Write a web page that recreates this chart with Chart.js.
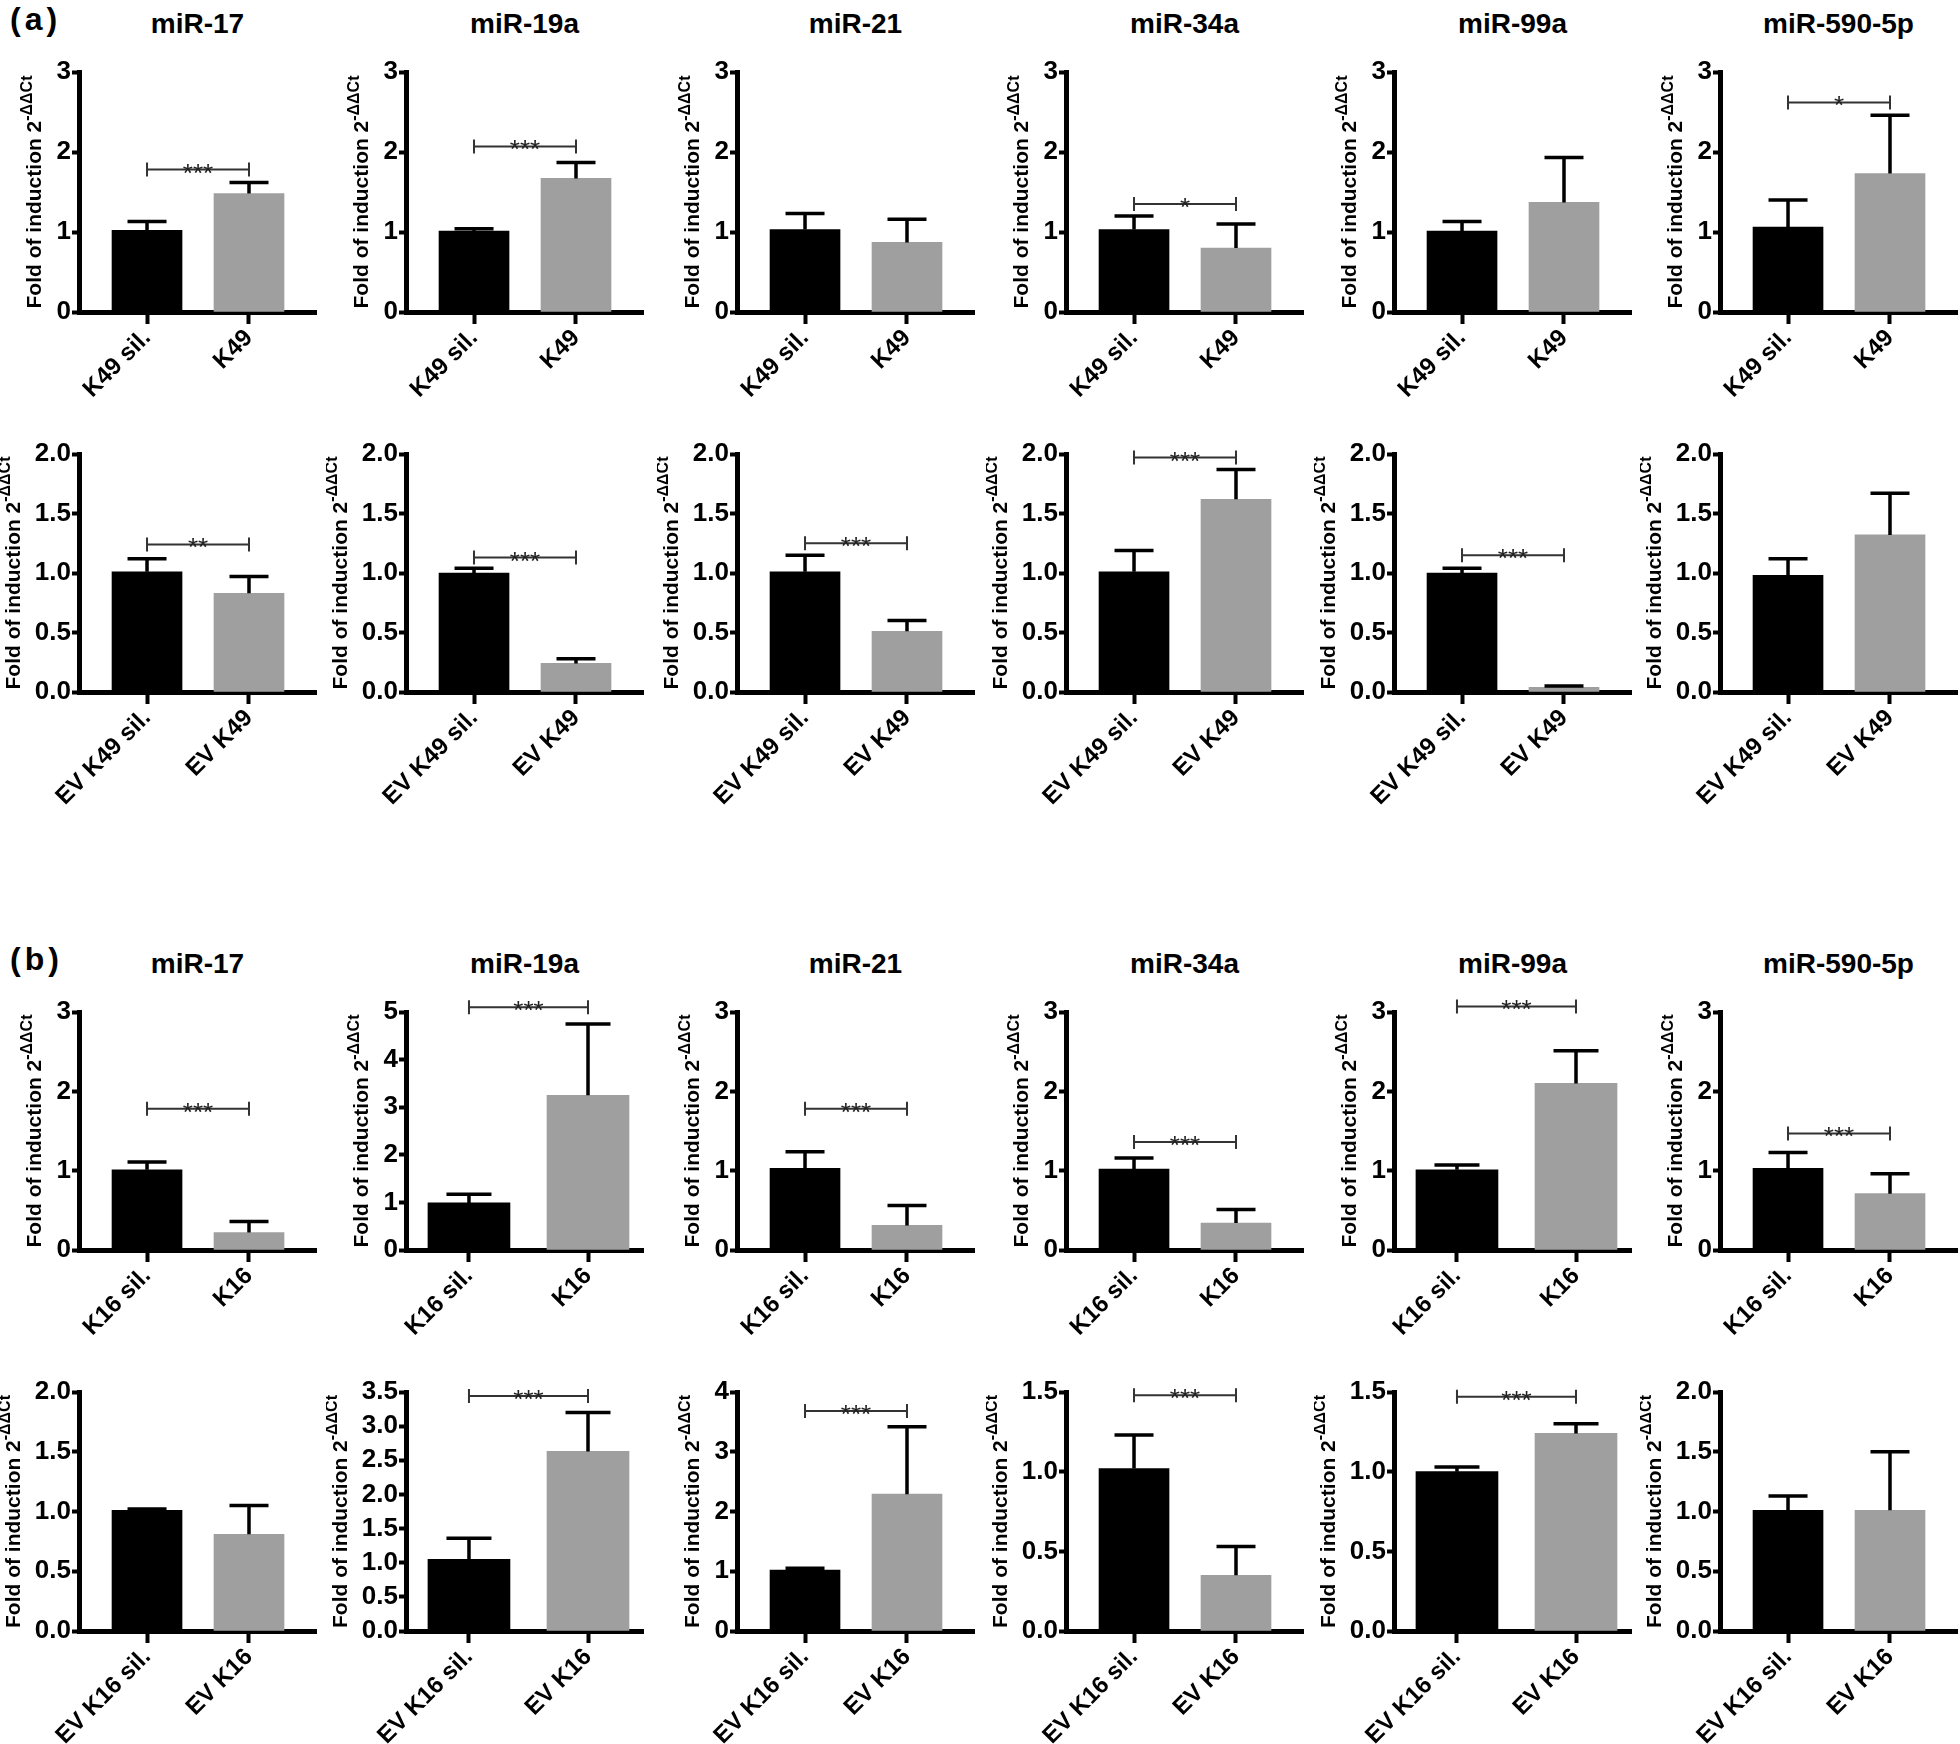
<!DOCTYPE html>
<html>
<head>
<meta charset="utf-8">
<script src="https://cdn.jsdelivr.net/npm/chart.js"></script>
<style>
  body { margin: 0; background: #fff; }
  #fig { position: relative; width: 1960px; height: 1744px; font-family: 'Liberation Sans', Arial, sans-serif; color: #000; }
  .ttl { position: absolute; width: 237px; text-align: center; font-weight: bold; font-size: 28px; line-height: 30px; }
  .pnl { position: absolute; font-weight: bold; font-size: 32px; line-height: 34px; letter-spacing: 4px; }
  canvas { position: absolute; }
</style>
</head>
<body>
<div id="fig"></div>
<script>
// miRNA panels, left to right
const genes = ['miR-17', 'miR-19a', 'miR-21', 'miR-34a', 'miR-99a', 'miR-590-5p'];

// (a) top row: cells, K49 silenced vs K49
const a1Labels = ['K49 sil.', 'K49'];
const a1SilMean = [1.02, 1.01, 1.03, 1.03, 1.01, 1.06];
const a1SilSem = [0.11, 0.03, 0.20, 0.17, 0.12, 0.34];
const a1Mean = [1.48, 1.67, 0.87, 0.80, 1.37, 1.73];
const a1Sem = [0.14, 0.20, 0.29, 0.30, 0.56, 0.73];
const a1Stars = ['***', '***', '', '*', '', '*'];
const a1StarY = [1.78, 2.07, null, 1.35, null, 2.62];
const a1Max = [3, 3, 3, 3, 3, 3];
const a1Step = [1, 1, 1, 1, 1, 1];

// (a) bottom row: EVs, K49 silenced vs K49
const a2Labels = ['EV K49 sil.', 'EV K49'];
const a2SilMean = [1.01, 1.00, 1.01, 1.01, 1.00, 0.98];
const a2SilSem = [0.11, 0.04, 0.14, 0.18, 0.04, 0.14];
const a2Mean = [0.83, 0.24, 0.51, 1.62, 0.04, 1.32];
const a2Sem = [0.14, 0.04, 0.09, 0.25, 0.01, 0.35];
const a2Stars = ['**', '***', '***', '***', '***', ''];
const a2StarY = [1.24, 1.13, 1.25, 1.97, 1.15, null];
const a2Max = [2, 2, 2, 2, 2, 2];
const a2Step = [0.5, 0.5, 0.5, 0.5, 0.5, 0.5];

// (b) top row: cells, K16 silenced vs K16
const b1Labels = ['K16 sil.', 'K16'];
const b1SilMean = [1.01, 0.99, 1.03, 1.02, 1.01, 1.03];
const b1SilSem = [0.10, 0.18, 0.21, 0.14, 0.06, 0.20];
const b1Mean = [0.22, 3.25, 0.31, 0.34, 2.10, 0.71];
const b1Sem = [0.14, 1.50, 0.25, 0.17, 0.41, 0.25];
const b1Stars = ['***', '***', '***', '***', '***', '***'];
const b1StarY = [1.78, 5.1, 1.78, 1.36, 3.07, 1.47];
const b1Max = [3, 5, 3, 3, 3, 3];
const b1Step = [1, 1, 1, 1, 1, 1];

// (b) bottom row: EVs, K16 silenced vs K16
const b2Labels = ['EV K16 sil.', 'EV K16'];
const b2SilMean = [1.01, 1.05, 1.02, 1.02, 1.00, 1.01];
const b2SilSem = [0.01, 0.31, 0.03, 0.21, 0.03, 0.12];
const b2Mean = [0.81, 2.63, 2.29, 0.35, 1.24, 1.01];
const b2Sem = [0.24, 0.57, 1.13, 0.18, 0.06, 0.49];
const b2Stars = ['', '***', '***', '***', '***', ''];
const b2StarY = [null, 3.44, 3.68, 1.48, 1.47, null];
const b2Max = [2, 3.5, 4, 1.5, 1.5, 2];
const b2Step = [0.5, 0.5, 1, 0.5, 0.5, 0.5];

const rows = [
  { labels: a1Labels, silMean: a1SilMean, silSem: a1SilSem, mean: a1Mean, sem: a1Sem, stars: a1Stars, starY: a1StarY, max: a1Max, step: a1Step },
  { labels: a2Labels, silMean: a2SilMean, silSem: a2SilSem, mean: a2Mean, sem: a2Sem, stars: a2Stars, starY: a2StarY, max: a2Max, step: a2Step },
  { labels: b1Labels, silMean: b1SilMean, silSem: b1SilSem, mean: b1Mean, sem: b1Sem, stars: b1Stars, starY: b1StarY, max: b1Max, step: b1Step },
  { labels: b2Labels, silMean: b2SilMean, silSem: b2SilSem, mean: b2Mean, sem: b2Sem, stars: b2Stars, starY: b2StarY, max: b2Max, step: b2Step }
];

// page layout (pixels)
const colX = [79, 406, 737, 1066, 1394, 1720];
const rowTop = [72, 454, 1012, 1392];
const rowBot = [312, 692, 1250, 1631];
const AXIS_LEN = 237;
const PAD_L = 80, PAD_R = 10, PAD_T = 26, Y_W = 64, X_H = 140;
const wide = ['2-1', '2-4', '3-1', '3-4'];

const NARROW = "'Liberation Sans Narrow', 'Arial Narrow', 'Liberation Sans', sans-serif";
const SANS = "'Liberation Sans', Arial, sans-serif";
const TICK_SIZE = 26;

// error bars, significance brackets and the y axis title
const annot = {
  id: 'annot',
  afterDatasetsDraw(chart, args, o) {
    const { ctx, scales: { x, y }, chartArea } = chart;
    ctx.save();
    ctx.strokeStyle = '#000';
    ctx.lineWidth = 3.5;
    o.means.forEach((m, i) => {
      const px = x.getPixelForValue(i);
      const y0 = y.getPixelForValue(m);
      const y1 = y.getPixelForValue(m + o.sems[i]);
      ctx.beginPath();
      ctx.moveTo(px, y0); ctx.lineTo(px, y1);
      ctx.moveTo(px - o.cap / 2, y1); ctx.lineTo(px + o.cap / 2, y1);
      ctx.stroke();
    });

    if (o.stars) {
      const by = y.getPixelForValue(o.starY);
      const x0 = x.getPixelForValue(0), x1 = x.getPixelForValue(1);
      ctx.strokeStyle = '#333';
      ctx.lineWidth = 2;
      ctx.beginPath();
      ctx.moveTo(x0, by); ctx.lineTo(x1, by);
      ctx.moveTo(x0, by - 7); ctx.lineTo(x0, by + 7);
      ctx.moveTo(x1, by - 7); ctx.lineTo(x1, by + 7);
      ctx.stroke();
      ctx.fillStyle = '#222';
      ctx.font = '26px ' + SANS;
      ctx.textAlign = 'center';
      ctx.textBaseline = 'alphabetic';
      ctx.fillText(o.stars, (x0 + x1) / 2, by + 12);
    }

    // rotated title with superscript
    ctx.font = 'bold ' + TICK_SIZE + 'px ' + NARROW;
    const lw = Math.max(...y.ticks.map(t => ctx.measureText(String(t.label)).width));
    const tx = chartArea.left - 8 - lw - 21;
    const cy = (chartArea.top + chartArea.bottom) / 2;
    const main = 'Fold of induction 2', sup = '-\u0394\u0394Ct';
    ctx.font = 'bold 21px ' + SANS;
    const mw = ctx.measureText(main).width;
    ctx.font = 'bold 16px ' + SANS;
    const sw = ctx.measureText(sup).width;
    ctx.translate(tx, cy);
    ctx.rotate(-Math.PI / 2);
    ctx.fillStyle = '#000';
    ctx.textAlign = 'left';
    ctx.textBaseline = 'middle';
    const start = -(mw + sw) / 2;
    ctx.font = 'bold 21px ' + SANS;
    ctx.fillText(main, start, 0);
    ctx.font = 'bold 16px ' + SANS;
    ctx.fillText(sup, start + mw, -8);
    ctx.restore();
  }
};

const fig = document.getElementById('fig');

function addText(cls, text, left, top) {
  const d = document.createElement('div');
  d.className = cls;
  d.textContent = text;
  d.style.left = left + 'px';
  d.style.top = top + 'px';
  fig.appendChild(d);
}

addText('pnl', '(a)', 10, 2);
addText('pnl', '(b)', 10, 942);
genes.forEach((g, c) => {
  addText('ttl', g, colX[c], 9);
  addText('ttl', g, colX[c], 949);
});

rows.forEach((row, r) => {
  genes.forEach((g, c) => {
    const isWide = wide.includes(r + '-' + c);
    const barW = isWide ? 82 : 70;
    const xMin = isWide ? -0.529 : -0.667;
    const xMax = isWide ? 1.462 : 1.657;
    const step = row.step[c];

    const cv = document.createElement('canvas');
    const w = PAD_L + AXIS_LEN + PAD_R;
    const h = PAD_T + (rowBot[r] - rowTop[r]) + X_H;
    cv.width = w; cv.height = h;
    cv.style.width = w + 'px'; cv.style.height = h + 'px';
    cv.style.left = (colX[c] - PAD_L) + 'px';
    cv.style.top = (rowTop[r] - PAD_T) + 'px';
    fig.appendChild(cv);

    new Chart(cv, {
      type: 'bar',
      data: {
        datasets: [{
          data: [{ x: 0, y: row.silMean[c] }, { x: 1, y: row.mean[c] }],
          backgroundColor: ['#000000', '#9f9f9f'],
          borderWidth: 0,
          barThickness: barW
        }]
      },
      options: {
        responsive: false,
        animation: false,
        devicePixelRatio: 1,
        layout: { padding: { left: PAD_L - Y_W, right: PAD_R, top: PAD_T, bottom: 0 } },
        plugins: {
          legend: { display: false },
          tooltip: { enabled: false },
          annot: {
            means: [row.silMean[c], row.mean[c]],
            sems: [row.silSem[c], row.sem[c]],
            cap: Math.round(barW * 0.55),
            stars: row.stars[c],
            starY: row.starY[c]
          }
        },
        scales: {
          x: {
            type: 'linear',
            min: xMin,
            max: xMax,
            offset: false,
            afterBuildTicks: s => { s.ticks = [{ value: 0 }, { value: 1 }]; },
            afterFit: s => { s.height = X_H; },
            grid: { drawOnChartArea: false, offset: false, tickLength: 12, tickWidth: 4, tickColor: '#000' },
            border: { display: true, width: 5, color: '#000' },
            ticks: {
              autoSkip: false,
              minRotation: 45,
              maxRotation: 45,
              padding: 0,
              color: '#000',
              font: { family: SANS, weight: 'bold', size: 24 },
              callback: (v, i) => row.labels[i]
            }
          },
          y: {
            min: 0,
            max: row.max[c],
            afterFit: s => { s.width = Y_W; },
            grid: { drawOnChartArea: false, tickLength: 7, tickWidth: 4, tickColor: '#000' },
            border: { display: true, width: 5, color: '#000' },
            ticks: {
              stepSize: step,
              autoSkip: false,
              maxTicksLimit: 20,
              padding: 1,
              color: '#000',
              font: { family: NARROW, weight: 'bold', size: TICK_SIZE },
              callback: v => step < 1 ? v.toFixed(1) : String(v)
            }
          }
        }
      },
      plugins: [annot]
    });
  });
});
</script>
</body>
</html>
